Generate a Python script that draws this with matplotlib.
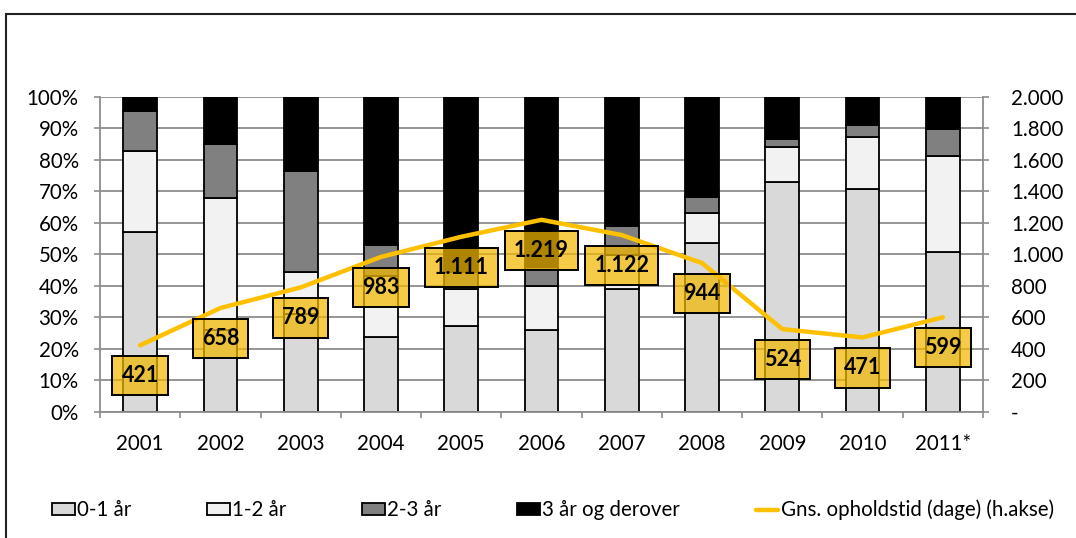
import matplotlib
matplotlib.use('Agg')
import matplotlib.pyplot as plt
import numpy as np
from matplotlib.lines import Line2D
from matplotlib.ticker import FixedLocator, FuncFormatter

plt.rcParams['font.family'] = ['Lato', 'DejaVu Sans']

years = ['2001', '2002', '2003', '2004', '2005', '2006', '2007', '2008', '2009', '2010', '2011*']
share_0_1 = [57.0, 26.0, 31.0, 23.7, 27.1, 26.0, 38.8, 53.6, 73.0, 70.7, 50.7]
share_1_2 = [25.9, 42.0, 13.2, 19.3, 11.8, 13.8, 10.9, 9.4, 11.0, 16.7, 30.6]
share_2_3 = [12.6, 17.0, 32.4, 9.9, 5.5, 6.2, 9.2, 5.2, 2.6, 3.7, 8.6]
share_3plus = [4.5, 15.0, 23.4, 47.1, 55.6, 54.0, 41.1, 31.8, 13.4, 8.9, 10.1]
avg_days = [421, 658, 789, 983, 1111, 1219, 1122, 944, 524, 471, 599]

series_names = ['0-1 år', '1-2 år', '2-3 år', '3 år og derover']
line_name = 'Gns. opholdstid (dage) (h.akse)'
colors = ['#D9D9D9', '#F2F2F2', '#808080', '#000000']

W, H = 1076, 538
fig = plt.figure(figsize=(W / 100, H / 100), dpi=100)
ax = fig.add_axes([100 / W, 1 - 411.5 / H, (983 - 100) / W, (411.5 - 97) / H])

FS = 14.8

x = np.arange(len(years))
bottom = np.zeros(len(years))
handles = []
for vals, col, name in zip([share_0_1, share_1_2, share_2_3, share_3plus], colors, series_names):
    b = ax.bar(x, vals, width=0.42, bottom=bottom, color=col, edgecolor='black',
               linewidth=1.3, label=name, zorder=2)
    handles.append(b)
    bottom += np.array(vals)

grid_col = '#8C8C8C'
ax.set_ylim(0, 100)
ax.set_xlim(-0.5, len(years) - 0.5)
ax.set_yticks(np.arange(0, 101, 10))
ax.yaxis.set_major_formatter(FuncFormatter(lambda v, p: f'{int(round(v))}%'))
ax.yaxis.grid(True, color=grid_col, linewidth=1.3)
ax.set_axisbelow(True)
ax.tick_params(axis='y', direction='out', length=4.3, width=1.2, color=grid_col,
               labelsize=FS, pad=11, labelcolor='black')

ax.xaxis.set_major_locator(FixedLocator(np.arange(-0.5, len(years), 1.0)))
ax.xaxis.set_major_formatter(FuncFormatter(lambda v, p: ''))
ax.xaxis.set_minor_locator(FixedLocator(x))
ax.set_xticks(x, labels=years, minor=True)
ax.tick_params(axis='x', which='major', direction='out', length=4.3, width=1.2, color=grid_col)
ax.tick_params(axis='x', which='minor', length=0, labelsize=FS, pad=16.5)

for s in ['top', 'right']:
    ax.spines[s].set_visible(False)
for s in ['left', 'bottom']:
    ax.spines[s].set_color(grid_col)
    ax.spines[s].set_linewidth(1.3)

ax2 = ax.twinx()
ln, = ax2.plot(x, avg_days, color='#FFC000', linewidth=3.2, solid_capstyle='round',
               label=line_name, zorder=3)
ax2.set_ylim(0, 2000)
ax2.set_yticks(np.arange(0, 2001, 200))
ax2.yaxis.set_major_formatter(FuncFormatter(
    lambda v, p: '-' if v == 0 else f'{int(round(v)):,}'.replace(',', '.')))
ax2.tick_params(axis='y', direction='out', length=4.3, width=1.2, color=grid_col,
                labelsize=FS, pad=16)
for s in ['top', 'left', 'bottom']:
    ax2.spines[s].set_visible(False)
ax2.spines['right'].set_color(grid_col)
ax2.spines['right'].set_linewidth(1.3)

for xi, v in zip(x, avg_days):
    ax2.annotate(f'{v:,}'.replace(',', '.'), xy=(xi, v), xytext=(0, -22),
                 textcoords='offset points', ha='center', va='center',
                 fontsize=15.5, fontweight='bold', color='black', zorder=5,
                 bbox=dict(boxstyle='square,pad=0.42', facecolor=(0.95, 0.72, 0.0, 0.72),
                           edgecolor='black', linewidth=1.4))

fig.legend(handles + [ln], series_names + [line_name], loc='center',
           bbox_to_anchor=(553 / W, 1 - 510 / H), ncol=5, frameon=False,
           fontsize=FS, handlelength=1.1, handleheight=0.55, handletextpad=0.1,
           columnspacing=3.7)

fig.add_artist(Line2D([5.5 / W, 5.5 / W], [0, 1 - 13.5 / H], color='#222222',
                      linewidth=1.5, transform=fig.transFigure))
fig.add_artist(Line2D([5.5 / W, 1], [1 - 13.5 / H, 1 - 13.5 / H], color='#222222',
                      linewidth=1.5, transform=fig.transFigure))

fig.savefig('out.png', dpi=100)
